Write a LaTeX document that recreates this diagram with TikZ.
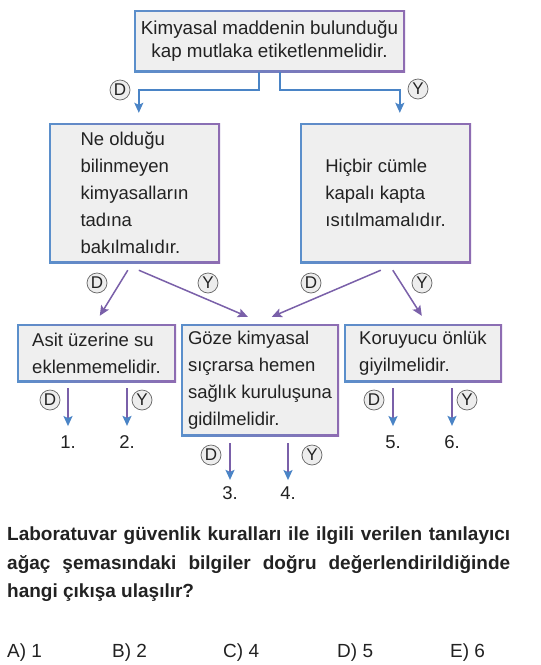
\documentclass[tikz,border=0pt]{standalone}
\usepackage{fontspec}
\setmainfont{Liberation Sans}
\usetikzlibrary{arrows.meta,calc}
\definecolor{bblue}{HTML}{5B8FCB}
\definecolor{bpurple}{HTML}{8E6CB2}
\definecolor{boxgray}{HTML}{EFEFEF}
\definecolor{ablue}{HTML}{4A84C6}
\definecolor{apurple}{HTML}{7A60A9}
\definecolor{txt}{HTML}{222222}
\definecolor{circgray}{HTML}{EDEDED}
\begin{document}
\begin{tikzpicture}[x=1pt,y=-1pt,
  gbox/.style={rectangle, inner sep=0pt, text=txt, align=left,
    font=\fontsize{18.5}{27}\selectfont,
    path picture={
      \shade[left color=bblue, right color=bpurple]
        (path picture bounding box.south west) rectangle (path picture bounding box.north east);
      \fill[boxgray]
        ([shift={(1.6pt,1.6pt)}]path picture bounding box.south west) rectangle
        ([shift={(-1.6pt,-1.6pt)}]path picture bounding box.north east);
    }},
  lbl/.style={circle, draw=black!60, fill=circgray, line width=0.7pt, minimum size=20pt,
    inner sep=0pt, text=txt, font=\fontsize{17}{17}\selectfont},
  num/.style={inner sep=0pt, anchor=base, text=txt, font=\fontsize{18.5}{18.5}\selectfont},
  barr/.style={draw=ablue, line width=1.5pt, -{Stealth[length=10pt,width=9pt,inset=2pt]}},
  marr/.style={draw=apurple, line width=1.5pt, -{Stealth[length=10pt,width=9pt,inset=2pt]}},
  darr/.style={draw=apurple, line width=1.5pt, -{Stealth[length=10pt,width=9pt,inset=2pt,color=ablue]}},
  ans/.style={inner sep=0pt, anchor=base west, text=txt, font=\fontsize{19}{19}\selectfont}
]
\useasboundingbox[fill=white] (0,0) rectangle (541,665);

% boxes
\node[gbox, minimum width=271pt, minimum height=62pt, align=center,
  font=\fontsize{18.8}{23.5}\selectfont] (T) at (269.5,41)
  {Kimyasal maddenin bulunduğu\\kap mutlaka etiketlenmelidir.};
\node[gbox, minimum width=171pt, minimum height=140pt] (L) at (134.5,193)
  {Ne olduğu\\bilinmeyen\\kimyasalların\\tadına\\bakılmalıdır.};
\node[gbox, minimum width=171pt, minimum height=140pt] (R) at (385.5,193)
  {Hiçbir cümle\\kapalı kapta\\ısıtılmamalıdır.};
\node[gbox, minimum width=159pt, minimum height=58pt] (A) at (96.5,353)
  {Asit üzerine su\\eklenmemelidir.};
\node[gbox, minimum width=158pt, minimum height=112pt] (B) at (260,380)
  {Göze kimyasal\\sıçrarsa hemen\\sağlık kuruluşuna\\gidilmelidir.};
\node[gbox, minimum width=158pt, minimum height=58pt] (C) at (423,353)
  {Koruyucu önlük\\giyilmelidir.};

% outcome numbers
\node[num] (n1) at (68,448) {1.};
\node[num] (n2) at (127,448) {2.};
\node[num] (n3) at (230,499) {3.};
\node[num] (n4) at (288,499) {4.};
\node[num] (n5) at (393,448) {5.};
\node[num] (n6) at (452,448) {6.};

% top connectors
\draw[barr] ([xshift=125pt]T.south west) -- ++(0,18) -| ([xshift=90pt,yshift=10pt]L.north west);
\draw[barr] ([xshift=146pt]T.south west) -- ++(0,18) -| ([xshift=100pt,yshift=10pt]R.north west);

% middle connectors
\draw[marr] ([xshift=79pt,yshift=-7pt]L.south west) -- ([xshift=83pt,yshift=8pt]A.north west);
\draw[marr] ([xshift=90pt,yshift=-7pt]L.south west) -- ([xshift=67pt,yshift=7pt]B.north west);
\draw[marr] ([xshift=81pt,yshift=-7pt]R.south west) -- ([xshift=91pt,yshift=7pt]B.north west);
\draw[marr] ([xshift=93pt,yshift=-7pt]R.south west) -- ([xshift=78pt,yshift=8pt]C.north west);

% bottom connectors
\draw[darr, shorten >=9pt] ([yshift=-6pt]A.south west -| n1.north) -- (n1.north);
\draw[darr, shorten >=9pt] ([yshift=-6pt]A.south west -| n2.north) -- (n2.north);
\draw[darr, shorten >=6pt] ([yshift=-7pt]B.south west -| n3.north) -- (n3.north);
\draw[darr, shorten >=6pt] ([yshift=-7pt]B.south west -| n4.north) -- (n4.north);
\draw[darr, shorten >=9pt] ([yshift=-6pt]C.south west -| n5.north) -- (n5.north);
\draw[darr, shorten >=9pt] ([yshift=-6pt]C.south west -| n6.north) -- (n6.north);

% D / Y labels
\node[lbl] (tD) at (120,90) {D};
\node[lbl] (tY) at (418,89) {Y};
\node[lbl] (lD) at (97,283) {D};
\node[lbl] (lY) at (208,283) {Y};
\node[lbl] (rD) at (311,283) {D};
\node[lbl] (rY) at (422,283) {Y};
\node[lbl] (aD) at (50,400) {D};
\node[lbl] (aY) at (142,400) {Y};
\node[lbl] (bD) at (211,455) {D};
\node[lbl] (bY) at (312,455) {Y};
\node[lbl] (cD) at (374,400) {D};
\node[lbl] (cY) at (467,400) {Y};

% question
\node[anchor=base west, inner sep=0pt, text width=503pt, align=justify, text=txt,
  font=\fontsize{19}{28.5}\selectfont\bfseries] (Q) at (7,540.5)
  {Laboratuvar güvenlik kuralları ile ilgili verilen tanılayıcı ağaç şemasındaki bilgiler doğru değerlendirildiğinde hangi çıkışa ulaşılır?};

% answers
\node[ans] (ansA) at (7,657) {A) 1};
\node[ans] (ansB) at (112,657) {B) 2};
\node[ans] (ansC) at (223,657) {C) 4};
\node[ans] (ansD) at (337,657) {D) 5};
\node[ans] (ansE) at (450,657) {E) 6};
\end{tikzpicture}
\end{document}
